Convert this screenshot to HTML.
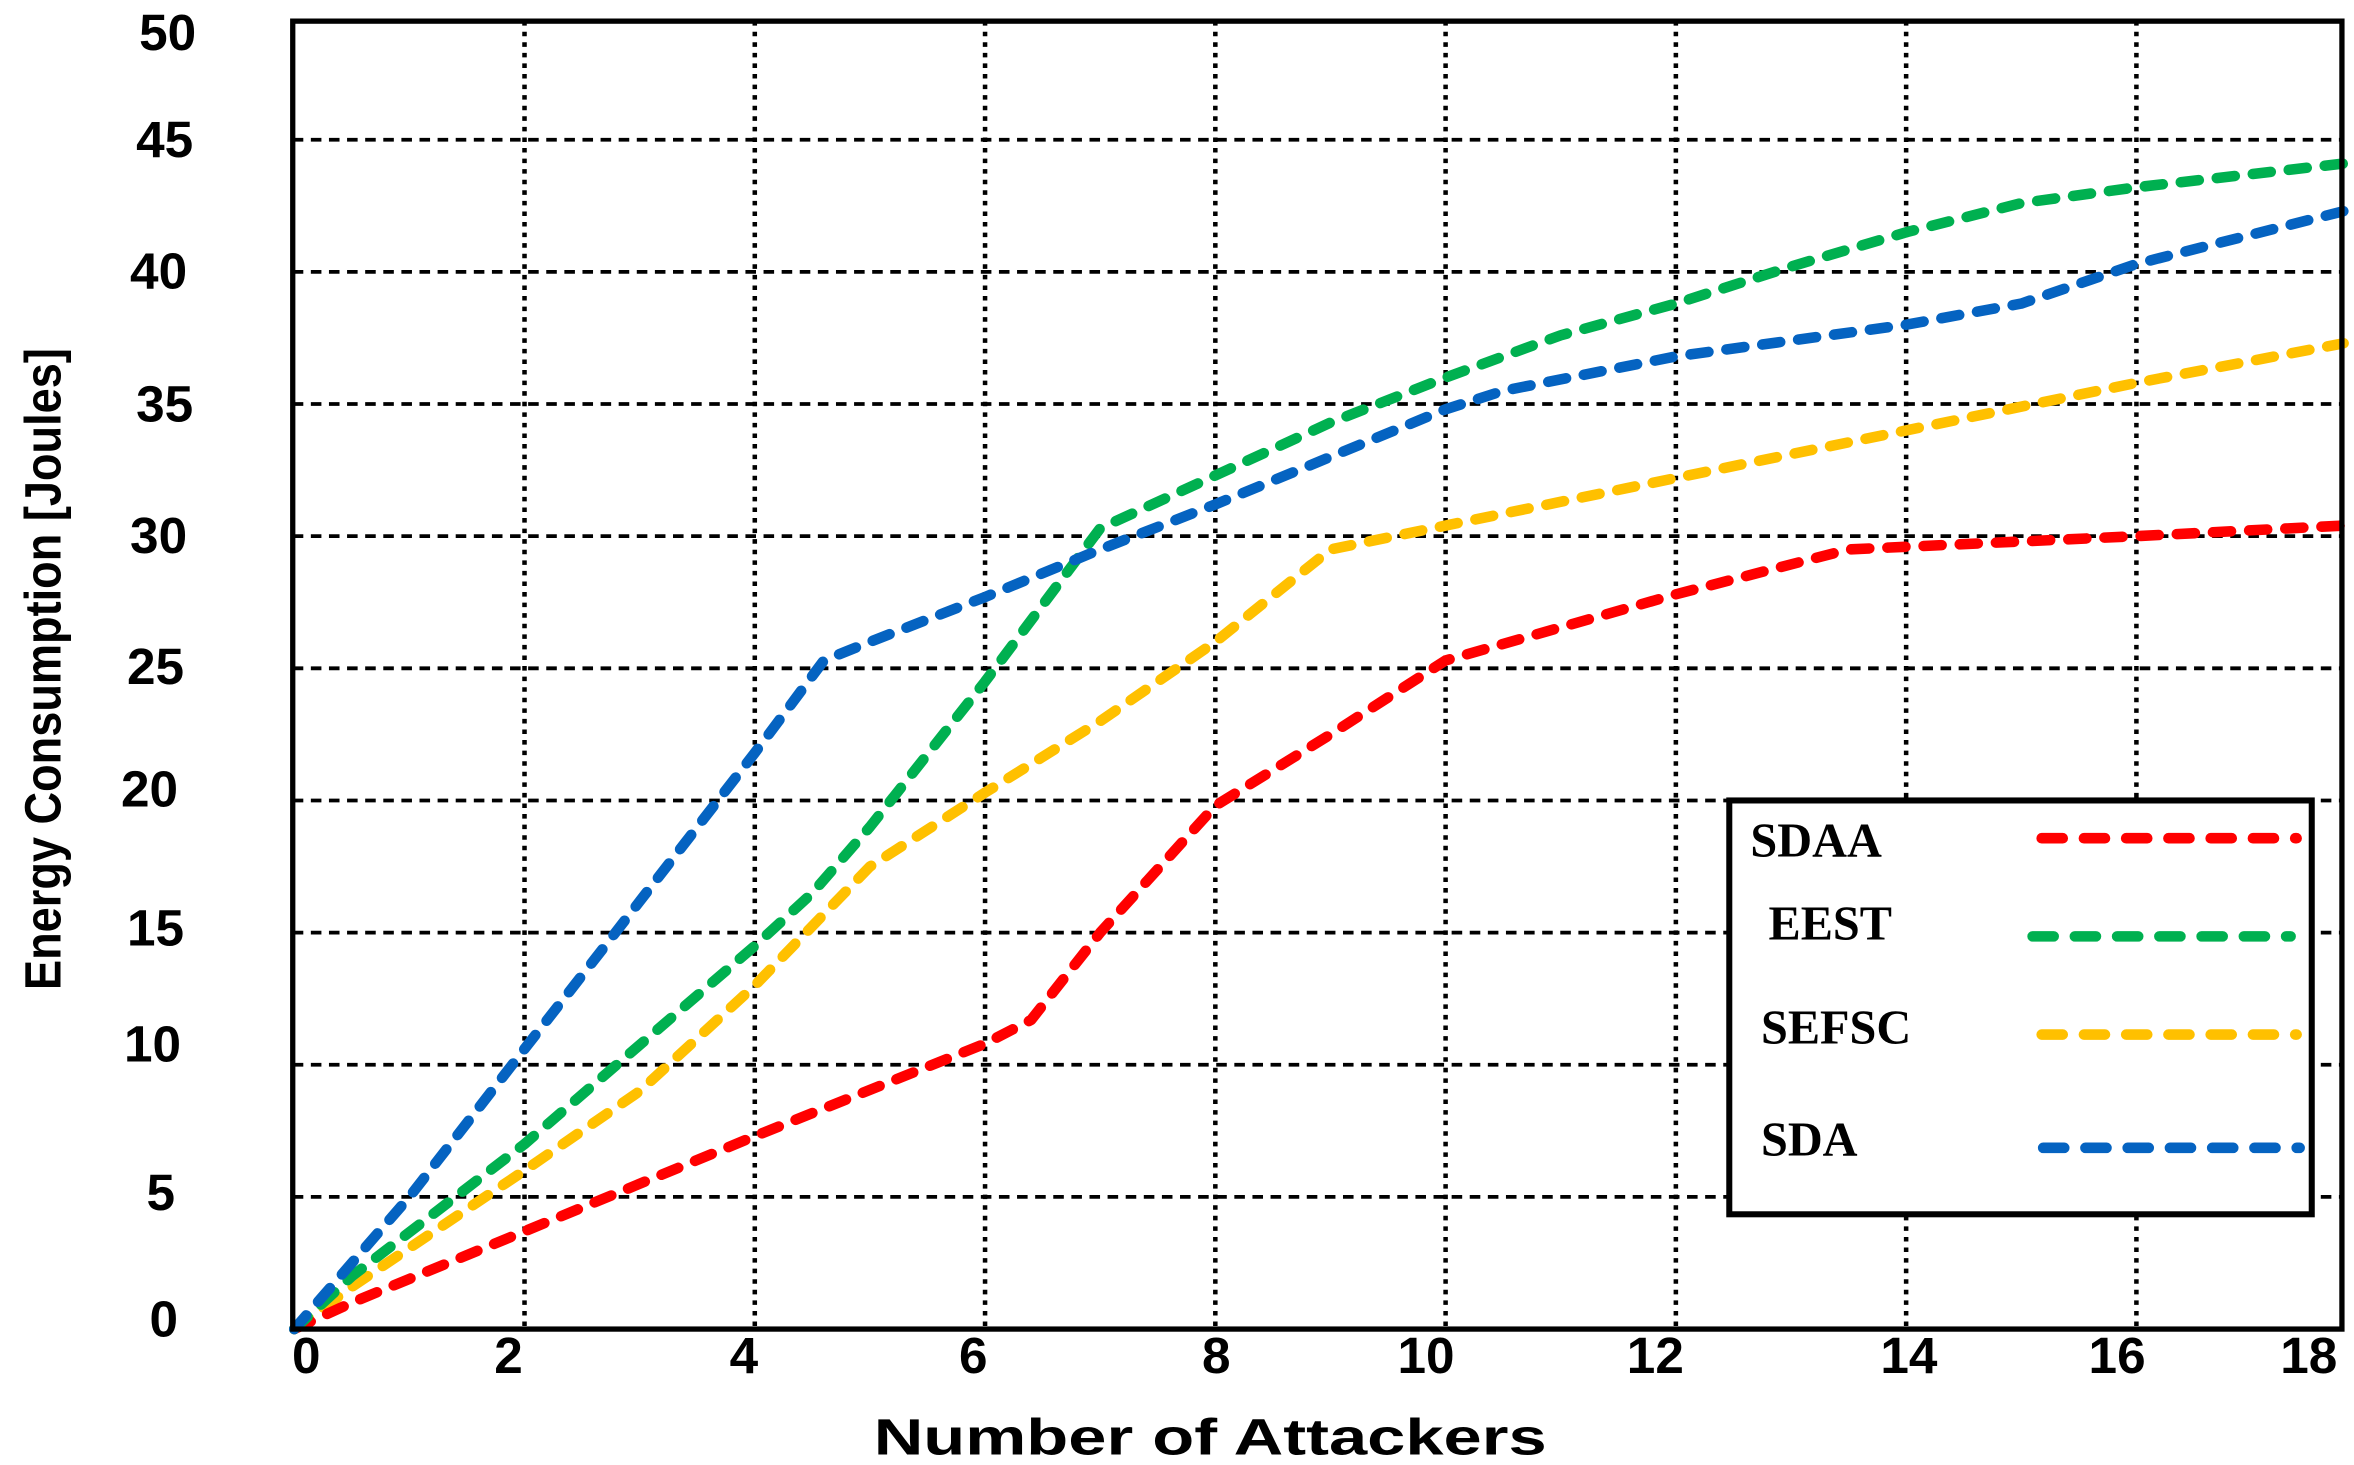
<!DOCTYPE html>
<html><head><meta charset="utf-8"><style>
html,body{margin:0;padding:0;background:#fff;}
svg{display:block;}
.t{font-family:"Liberation Sans",Arial,sans-serif;font-weight:bold;font-size:34px;fill:#000;}
.l{font-family:"Liberation Serif","Times New Roman",serif;font-weight:bold;font-size:32px;fill:#000;}
</style></head><body>
<svg id="s" width="2354" height="1465" viewBox="0 0 1560 970" preserveAspectRatio="none" xmlns="http://www.w3.org/2000/svg">
<rect x="0" y="0" width="1560" height="970" fill="#fff"/>
<g id="grid"></g>
<g id="series"></g>
<rect x="194" y="14" width="1358" height="866" fill="none" stroke="#000" stroke-width="3.5"/>
<g class="t" text-anchor="end">
<text x="130" y="33">50</text>
<text x="128" y="104">45</text>
<text x="124" y="191">40</text>
<text x="128" y="279">35</text>
<text x="124" y="366">30</text>
<text x="122" y="453">25</text>
<text x="118" y="534">20</text>
<text x="122" y="626">15</text>
<text x="120" y="703">10</text>
<text x="116" y="801">5</text>
<text x="118" y="885">0</text>
</g>
<g class="t" text-anchor="middle">
<text x="203" y="909">0</text>
<text x="337" y="909">2</text>
<text x="493" y="909">4</text>
<text x="645" y="909">6</text>
<text x="806" y="909">8</text>
<text x="945" y="909">10</text>
<text x="1097" y="909">12</text>
<text x="1265" y="909">14</text>
<text x="1403" y="909">16</text>
<text x="1530" y="909">18</text>
</g>
<text class="t" x="802" y="963" text-anchor="middle" textLength="446" lengthAdjust="spacingAndGlyphs">Number of Attackers</text>
<text class="t" transform="translate(40,443) rotate(-90)" text-anchor="middle" textLength="425" lengthAdjust="spacingAndGlyphs" style="font-size:34px">Energy Consumption [Joules]</text>
<rect x="1146" y="530" width="386" height="274" fill="#fff" stroke="#000" stroke-width="4"/>
<g class="l">
<text x="1160" y="567">SDAA</text>
<text x="1172" y="622">EEST</text>
<text x="1167" y="691">SEFSC</text>
<text x="1167" y="765">SDA</text>
</g>
<g stroke-width="7" stroke-linecap="round" stroke-dasharray="14 14" fill="none">
<line x1="1353" y1="555" x2="1522" y2="555" stroke="#ff0000"/>
<line x1="1347" y1="620" x2="1518" y2="620" stroke="#00b050"/>
<line x1="1353" y1="685" x2="1522" y2="685" stroke="#ffc000"/>
<line x1="1354" y1="760" x2="1524" y2="760" stroke="#0563c1"/>
</g>
</svg>
<script>
(function(){
var NS="http://www.w3.org/2000/svg";
function X(v){return 195+76.3*v;}
function Y(v){return 880-17.5*v;}
var g=document.getElementById("grid");
for(var i=2;i<=16;i+=2){var l=document.createElementNS(NS,"line");l.setAttribute("x1",X(i));l.setAttribute("x2",X(i));l.setAttribute("y1",14);l.setAttribute("y2",880);l.setAttribute("stroke","#000");l.setAttribute("stroke-width","3");l.setAttribute("stroke-dasharray","3 4");g.appendChild(l);}
for(var j=5;j<=45;j+=5){var l=document.createElementNS(NS,"line");l.setAttribute("x1",194);l.setAttribute("x2",1552);l.setAttribute("y1",Y(j));l.setAttribute("y2",Y(j));l.setAttribute("stroke","#000");l.setAttribute("stroke-width","2.5");l.setAttribute("stroke-dasharray","7 5");g.appendChild(l);}
var S=[
["#ffc000",[[0,0],[0.5,1.6],[2,6],[3,9],[4,13],[5,17.5],[6,20.3],[7,23],[8,26],[9,29.5],[10,30.4],[12,32.2],[14,34],[16,35.8],[17.8,37.3]]],
["#ff0000",[[0,0],[0.5,1],[2,3.7],[4,7.3],[6,10.8],[6.4,11.7],[7,15],[8,19.8],[9,22.5],[10,25.3],[12,27.8],[13.5,29.5],[16,30],[17.8,30.4]]],
["#00b050",[[0,0],[0.5,2],[2,7],[4,14.5],[4.5,16.5],[5,19],[6,24.5],[7,30.3],[8,32.3],[9,34.3],[10,36],[11,37.6],[12,38.8],[13,40.2],[14,41.5],[15,42.6],[16,43.2],[17.8,44.1]]],
["#0563c1",[[0,0],[1,5],[2,10.6],[2.7,14.5],[4,21.8],[4.6,25.3],[5,26],[6,27.7],[7,29.5],[8,31.2],[9,33],[10,34.8],[10.5,35.5],[12,36.8],[14,38],[15,38.8],[16,40.3],[17.8,42.3]]]
];
var sg=document.getElementById("series");
S.forEach(function(s){var d="";s[1].forEach(function(p,k){d+=(k?"L":"M")+X(p[0]).toFixed(1)+","+Y(p[1]).toFixed(1);});
var p=document.createElementNS(NS,"path");p.setAttribute("d",d);p.setAttribute("stroke",s[0]);p.setAttribute("stroke-width","7");p.setAttribute("fill","none");p.setAttribute("stroke-linecap","round");p.setAttribute("stroke-linejoin","round");p.setAttribute("stroke-dasharray","12 12");sg.appendChild(p);});
})();
</script>
</body></html>
